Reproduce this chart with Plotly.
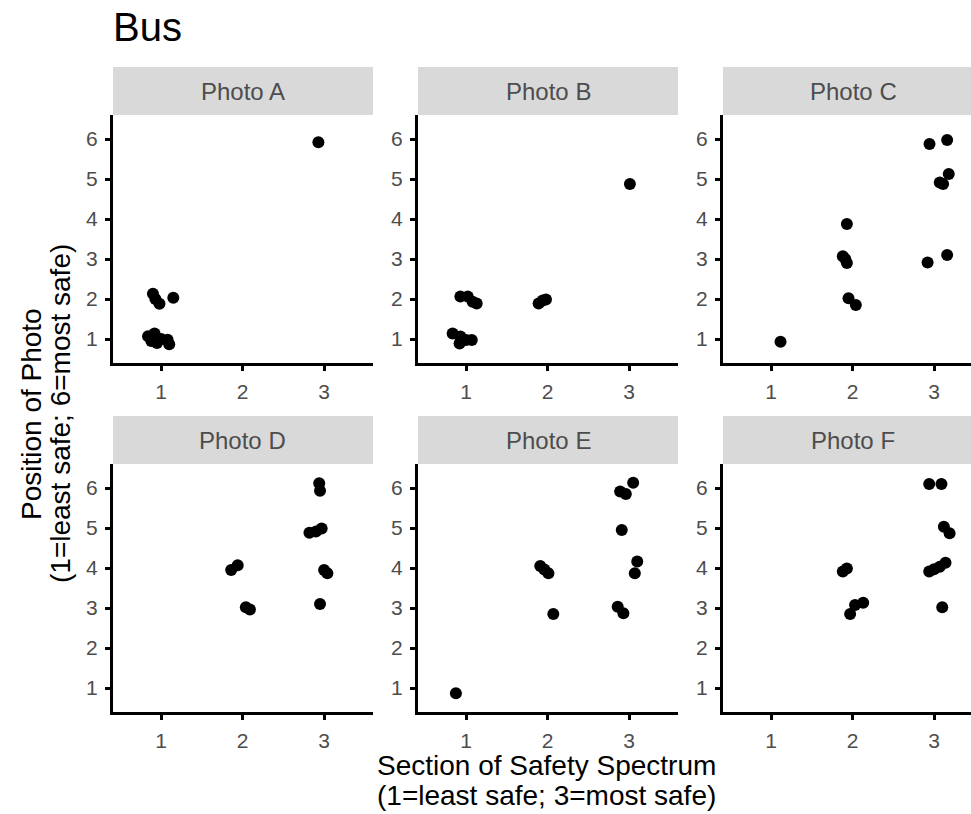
import plotly.graph_objects as go

# Jittered responses: section of safety spectrum (x) vs. position of photo (y)
photo_names = ["Photo A", "Photo B", "Photo C", "Photo D", "Photo E", "Photo F"]

photo_a_x = [2.93, 0.90, 0.93, 0.98, 1.15, 0.84, 0.92, 0.95, 1.00, 1.08, 1.10, 0.88]
photo_a_y = [5.92, 2.13, 2.00, 1.88, 2.03, 1.07, 1.14, 0.90, 1.00, 0.98, 0.87, 0.95]

photo_b_x = [3.01, 1.89, 1.94, 1.98, 0.93, 1.02, 1.08, 1.13, 0.835, 0.93, 0.92, 1.00, 1.07]
photo_b_y = [4.875, 1.89, 1.96, 1.99, 2.06, 2.06, 1.93, 1.89, 1.14, 1.06, 0.89, 0.975, 0.975]

photo_c_x = [1.116, 1.93, 1.88, 1.91, 1.93, 1.95, 2.04, 2.944, 3.16, 3.07, 3.11, 3.18, 2.92, 3.16]
photo_c_y = [0.93, 3.875, 3.07, 3.00, 2.90, 2.02, 1.85, 5.875, 5.975, 4.91, 4.875, 5.125, 2.91, 3.10]

photo_d_x = [2.94, 2.95, 2.82, 2.90, 2.97, 1.86, 1.94, 2.04, 2.09, 3.00, 3.04, 2.95]
photo_d_y = [6.12, 5.93, 4.88, 4.91, 4.99, 3.95, 4.07, 3.02, 2.96, 3.95, 3.87, 3.10]

photo_e_x = [0.875, 1.91, 1.96, 2.01, 2.07, 2.89, 2.96, 3.05, 2.91, 3.10, 3.07, 2.86, 2.93]
photo_e_y = [0.87, 4.05, 3.96, 3.87, 2.85, 5.91, 5.85, 6.13, 4.95, 4.16, 3.87, 3.03, 2.87]

photo_f_x = [1.88, 1.93, 1.97, 2.03, 2.13, 2.94, 3.09, 3.12, 3.19, 2.94, 3.00, 3.07, 3.14, 3.10]
photo_f_y = [3.91, 3.99, 2.85, 3.075, 3.13, 6.10, 6.10, 5.03, 4.87, 3.91, 3.97, 4.03, 4.13, 3.02]

series_x = [photo_a_x, photo_b_x, photo_c_x, photo_d_x, photo_e_x, photo_f_x]
series_y = [photo_a_y, photo_b_y, photo_c_y, photo_d_y, photo_e_y, photo_f_y]

x_ticks = [1, 2, 3]
y_ticks = [1, 2, 3, 4, 5, 6]

chart_title = "Bus"
x_title_lines = ["Section of Safety Spectrum", "(1=least safe; 3=most safe)"]
y_title_lines = ["Position of Photo", "(1=least safe; 6=most safe)"]

# ---- page geometry (pixels) ----
W, H = 971, 814
FONT = "Liberation Sans, Arial, sans-serif"
col_left = [113, 418, 723]
panel_w = 260
row_top = [115, 464]
panel_h = 248
strip_h = 48
x_lo, x_hi = 0.41, 3.60
y_lo, y_hi = 0.40, 6.60


def px_x(p):
    return p / W


def px_y(p):
    return 1 - p / H


fig = go.Figure()
shapes = []
annotations = []

for i, name in enumerate(photo_names):
    r, c = divmod(i, 3)
    idx = "" if i == 0 else str(i + 1)
    left = col_left[c]
    right = left + panel_w
    xr_hi = x_hi
    if right > W:
        xr_hi = x_lo + (W - left) / panel_w * (x_hi - x_lo)
        right = W
    top = row_top[r]
    bottom = top + panel_h

    fig.add_trace(go.Scatter(
        x=series_x[i], y=series_y[i], mode="markers",
        marker=dict(size=12, color="black", line=dict(width=0)),
        xaxis="x" + idx, yaxis="y" + idx, showlegend=False,
        hoverinfo="x+y",
    ))

    axis_common = dict(
        showline=True, linecolor="black", linewidth=3,
        ticks="outside", ticklen=5, tickwidth=3, tickcolor="black",
        showgrid=False, zeroline=False,
        tickfont=dict(family=FONT, size=21, color="#4D4D4D"),
        ticklabelstandoff=3,
        fixedrange=True,
    )
    fig.layout["xaxis" + idx] = dict(
        axis_common,
        domain=[px_x(left), px_x(right)],
        range=[x_lo, xr_hi], tickvals=x_ticks,
        anchor="y" + idx,
    )
    fig.layout["yaxis" + idx] = dict(
        axis_common,
        domain=[px_y(bottom), px_y(top)],
        range=[y_lo, y_hi], tickvals=y_ticks,
        anchor="x" + idx,
    )

    # facet strip
    s_top = top - strip_h
    shapes.append(dict(
        type="rect", xref="paper", yref="paper",
        x0=px_x(left), x1=px_x(right),
        y0=px_y(top), y1=px_y(s_top),
        fillcolor="#D9D9D9", line=dict(width=0), layer="below",
    ))
    annotations.append(dict(
        text=name, xref="paper", yref="paper",
        x=px_x(col_left[c] + panel_w / 2), y=px_y(s_top + strip_h / 2),
        xanchor="center", yanchor="middle", showarrow=False,
        font=dict(family=FONT, size=24, color="#4D4D4D"),
    ))

annotations.append(dict(
    text=chart_title, xref="paper", yref="paper",
    x=px_x(111), y=px_y(27.5), xanchor="left", yanchor="middle",
    showarrow=False, font=dict(family=FONT, size=40, color="black"),
))

# two-line axis titles, one annotation per line for tight line spacing
for line, ypos in zip(x_title_lines, [765, 795]):
    annotations.append(dict(
        text=line, xref="paper", yref="paper",
        x=px_x(546), y=px_y(ypos), xanchor="center", yanchor="middle",
        showarrow=False,
        font=dict(family=FONT, size=28, color="black"),
    ))
for line, xpos in zip(y_title_lines, [31, 60]):
    annotations.append(dict(
        text=line, xref="paper", yref="paper",
        x=px_x(xpos), y=px_y(414), xanchor="center", yanchor="middle",
        showarrow=False, textangle=-90,
        font=dict(family=FONT, size=28, color="black"),
    ))

fig.update_layout(
    width=W, height=H, autosize=False,
    margin=dict(l=0, r=0, t=0, b=0),
    paper_bgcolor="white", plot_bgcolor="white",
    shapes=shapes, annotations=annotations,
)

fig.write_html("out.html", config={"displayModeBar": False})
